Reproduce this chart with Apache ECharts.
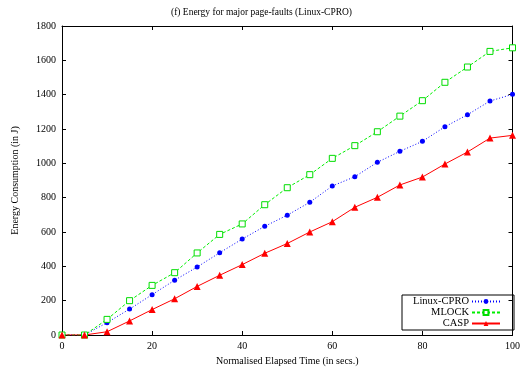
<!DOCTYPE html>
<html><head><meta charset="utf-8">
<script src="https://cdn.jsdelivr.net/npm/echarts@6/dist/echarts.min.js"></script>
<style>html,body{margin:0;padding:0;background:#fff}#c{width:523px;height:371px}</style>
</head><body><div id="c"></div>
<script>
const times = [0,5,10,15,20,25,30,35,40,45,50,55,60,65,70,75,80,85,90,95,100];
const linuxCpro = [0,0,72,151,235,319,396,479,559,633,698,773,868,922,1006,1070,1128,1213,1283,1363,1402];
const mlock = [0,0,91,200,289,363,478,586,647,759,858,934,1029,1103,1184,1275,1365,1472,1561,1652,1673];
const casp = [0,0,19,82,148,211,283,348,410,476,533,600,660,744,802,874,920,996,1066,1147,1163];
const seriesNames = ['Linux-CPRO','MLOCK','CASP'];
const titleText = '(f) Energy for major page-faults (Linux-CPRO)';
const xName = 'Normalised Elapsed Time (in secs.)';
const yName = 'Energy Consumption (in J)';

const font = 'Liberation Serif';
const pair = arr => times.map((t,i)=>[t,arr[i]]);
const chart = echarts.init(document.getElementById('c'));
const tick = {show:true, inside:true, length:4, lineStyle:{color:'#000'}};
const line = {show:true, onZero:false, lineStyle:{color:'#000', width:1}};
chart.setOption({
  animation:false,
  backgroundColor:'#fff',
  title:{text:titleText, left:'center', top:2, textStyle:{fontFamily:font, fontSize:9.5, fontWeight:'normal', color:'#000'}},
  grid:{left:62, right:8, top:26, bottom:36},
  legend:{
    orient:'vertical', right:9, bottom:41, align:'right',
    data:seriesNames, itemWidth:28, itemHeight:6, itemGap:0,
    borderColor:'#000', borderWidth:1, borderRadius:0, padding:[1,13,1,5],
    textStyle:{fontFamily:font, fontSize:10.5, lineHeight:10, height:10, color:'#000', width:62, align:'right', padding:[0,-2,0,0]}
  },
  xAxis:[
    {type:'value', min:0, max:100, interval:20, position:'bottom', name:xName, nameLocation:'middle', nameGap:18,
     nameTextStyle:{fontFamily:font, fontSize:10, color:'#000'},
     axisLine:line, axisTick:tick, splitLine:{show:false},
     axisLabel:{fontFamily:font, fontSize:10, color:'#000', margin:6}},
    {type:'value', min:0, max:100, interval:20, position:'top', axisLine:line, axisTick:tick, splitLine:{show:false}, axisLabel:{show:false}}
  ],
  yAxis:[
    {type:'value', min:0, max:1800, interval:200, position:'left', name:yName, nameLocation:'middle', nameGap:42,
     nameTextStyle:{fontFamily:font, fontSize:10, color:'#000'},
     axisLine:line, axisTick:tick, splitLine:{show:false},
     axisLabel:{fontFamily:font, fontSize:10, color:'#000', margin:6, formatter:v=>String(v)}},
    {type:'value', min:0, max:1800, interval:200, position:'right', axisLine:line, axisTick:tick, splitLine:{show:false}, axisLabel:{show:false}}
  ],
  series:[
    {name:seriesNames[0], type:'line', data:pair(linuxCpro), symbol:'circle', symbolSize:5,
     itemStyle:{color:'#0000ff'}, lineStyle:{color:'#0000ff', width:1, type:[1,2]}},
    {name:seriesNames[1], type:'line', data:pair(mlock), symbol:'rect', symbolSize:6,
     itemStyle:{color:'#fff', borderColor:'#00dd00', borderWidth:1}, lineStyle:{color:'#00ee00', width:1, type:[3,2]}},
    {name:seriesNames[2], type:'line', data:pair(casp), symbol:'triangle', symbolSize:7,
     itemStyle:{color:'#ff0000'}, lineStyle:{color:'#ff0000', width:1}}
  ]
});
</script></body></html>
